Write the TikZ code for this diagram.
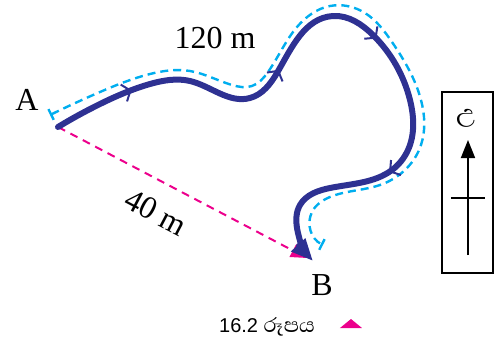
\documentclass[tikz,border=0pt]{standalone}
\usepackage{fontspec}
\setmainfont{Liberation Serif}
\newfontfamily\capfont{Liberation Sans}
\newfontfamily\sinhalafont[Script=Sinhala]{Abhaya Libre}
\usetikzlibrary{arrows.meta,decorations.markings,hobby}
\definecolor{routeblue}{RGB}{46,49,146}
\definecolor{walkcyan}{RGB}{0,174,239}
\definecolor{shiftpink}{RGB}{236,0,140}

\begin{document}
\begin{tikzpicture}[x=0.5pt, y=-0.5pt,
  route/.style={routeblue, line width=3pt, line cap=round,
                -{Triangle[length=11pt, width=9pt]},
                postaction={decorate},
                decoration={markings,
                  mark=at position .12 with {\arrow{Straight Barb[length=3.5pt, width=9pt, line width=1pt]}},
                  mark=at position .36 with {\arrow{Straight Barb[length=3.5pt, width=9pt, line width=1pt]}},
                  mark=at position .55 with {\arrow{Straight Barb[length=3.5pt, width=9pt, line width=1pt]}},
                  mark=at position .77 with {\arrow{Straight Barb[length=3.5pt, width=9pt, line width=1pt]}}}},
  walk/.style={walkcyan, line width=1.2pt, dash pattern=on 4pt off 2.5pt,
               {Bar[width=6pt, line width=1.2pt]}-{Bar[width=6pt, line width=1.2pt]}},
  displacement/.style={shiftpink, line width=1pt, dash pattern=on 4pt off 3pt,
                -{Triangle[length=8pt, width=7pt]}},
  tag/.style={font=\fontsize{16}{18}\selectfont, inner sep=1pt, text=black}
]
\useasboundingbox (0,0) rectangle (495,343);

\coordinate (start) at (58,127);
\coordinate (finish) at (313,261);
\coordinate (pinkend) at (307,258);
\coordinate (walkstart) at (50,115);
\coordinate (walkend) at (323,245);

\node[tag] (A) at (27,100) {A};
\node[tag] (B) at (322,285) {B};

\draw[displacement] (start) -- node[tag, sloped, below=8pt, pos=.45] (dist) {40 m} (pinkend);
\node[tag] (total) at (215,38) {120 m};

% the walked route and the path beside it
\draw[walk] (walkstart) to[curve through={(100,92) (150,74) (190,71) (232,85) (252,86)
  (268,72) (297,27) (330,6) (365,13) (392,42) (421,100) (421,145) (407,168)
  (380,185) (330,197) (312,212)}] (walkend);
\draw[route] (start) to[curve through={(100,104) (150,84) (190,81) (250,98) (277,73)
  (333,16) (373,35) (410,100) (408,150) (392,170) (330,188) (300,205)
  (297,228)}] (finish);

% north marker
\node[draw, line width=1.2pt, minimum width=25.5pt, minimum height=90.5pt,
      inner sep=0pt] (compass) at (467.5,182.5) {};
\node[font=\sinhalafont\fontsize{16}{18}\selectfont] (north) at (466,118) {උ};
\coordinate (tail) at (468,255);
\coordinate (head) at (468,140);
\draw[line width=.9pt, -{Triangle[length=9pt, width=7pt]}] (tail) -- (head);
\draw[line width=.9pt] (451,198) -- (485,198);

\node[font=\fontsize{10}{12}\selectfont] (caption) at (267,327)
  {\capfont 16.2 {\sinhalafont\fontsize{13}{14}\selectfont රූපය}};
\fill[shiftpink] (340,328) -- (362,328) -- (351,319) -- cycle;
\end{tikzpicture}
\end{document}
